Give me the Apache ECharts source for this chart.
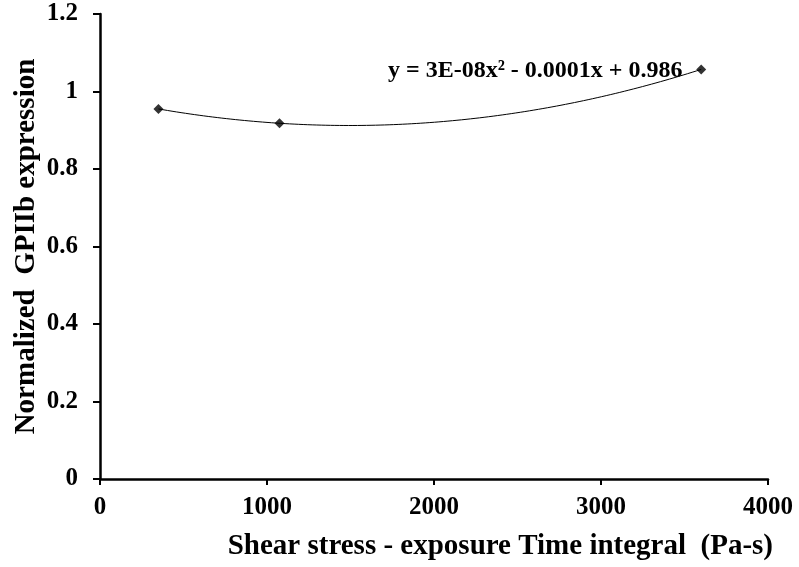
<!DOCTYPE html>
<html>
<head>
<meta charset="utf-8">
<script src="https://cdn.jsdelivr.net/npm/echarts@6/dist/echarts.min.js"></script>
<style>
  html, body { margin: 0; padding: 0; background: #fff; }
  #chart { width: 799px; height: 567px; }
</style>
</head>
<body>
<div id="chart"></div>
<script>
// Measured exposure (Pa-s) and normalized GPIIb expression
const exposure = [350, 1075, 3600];
const gpiib = [0.955, 0.918, 1.057];

const xTicks = [0, 1000, 2000, 3000, 4000];
const yTicks = [0, 0.2, 0.4, 0.6, 0.8, 1, 1.2];

const xTitle = 'Shear stress - exposure Time integral  (Pa-s)';
const yTitle = 'Normalized  GPIIb expression';
const equationText = 'y = 3E-08x\u00B2 - 0.0001x + 0.986';

const FONT = '"Liberation Serif", "Times New Roman", serif';

// Second-order polynomial trendline, least-squares fit to the measurements
function polyfit2(xs, ys) {
  const n = xs.length;
  let s = [0, 0, 0, 0, 0], t = [0, 0, 0];
  for (let i = 0; i < n; i++) {
    let p = 1;
    for (let k = 0; k <= 4; k++) { s[k] += p; if (k <= 2) t[k] += p * ys[i]; p *= xs[i]; }
  }
  const A = [[s[0], s[1], s[2], t[0]], [s[1], s[2], s[3], t[1]], [s[2], s[3], s[4], t[2]]];
  for (let c = 0; c < 3; c++) {
    for (let r = c + 1; r < 3; r++) {
      const f = A[r][c] / A[c][c];
      for (let k = c; k < 4; k++) A[r][k] -= f * A[c][k];
    }
  }
  const coef = [0, 0, 0];
  for (let r = 2; r >= 0; r--) {
    let v = A[r][3];
    for (let k = r + 1; k < 3; k++) v -= A[r][k] * coef[k];
    coef[r] = v / A[r][r];
  }
  return coef; // c0 + c1 x + c2 x^2
}

const coef = polyfit2(exposure, gpiib);
const xMin = Math.min(...exposure), xMax = Math.max(...exposure);
const trend = [];
for (let i = 0; i <= 120; i++) {
  const x = xMin + (xMax - xMin) * i / 120;
  trend.push([x, coef[0] + coef[1] * x + coef[2] * x * x]);
}

const chart = echarts.init(document.getElementById('chart'), null, { renderer: 'canvas' });
chart.setOption({
  animation: false,
  backgroundColor: '#ffffff',
  grid: { left: 100, right: 31, top: 14, bottom: 88, containLabel: false, outerBoundsMode: 'none' },
  xAxis: {
    type: 'value',
    min: xTicks[0], max: xTicks[xTicks.length - 1], interval: 1000,
    axisLine: { show: true, lineStyle: { color: '#000', width: 2.5 } },
    axisTick: { show: true, inside: false, length: 6, lineStyle: { color: '#000', width: 2 } },
    axisLabel: { margin: 16, color: '#000', fontFamily: FONT, fontWeight: 'bold', fontSize: 25,
      formatter: v => String(v) },
    splitLine: { show: false },
    name: xTitle,
    nameLocation: 'end',
    nameGap: 5,
    nameTextStyle: { color: '#000', fontFamily: FONT, fontWeight: 'bold', fontSize: 29,
      align: 'right', verticalAlign: 'top', padding: [53, 0, 0, 0] }
  },
  yAxis: {
    type: 'value',
    min: yTicks[0], max: yTicks[yTicks.length - 1], interval: 0.2,
    axisLine: { show: true, lineStyle: { color: '#000', width: 2.5 } },
    axisTick: { show: true, inside: false, length: 7, lineStyle: { color: '#000', width: 2 } },
    axisLabel: { margin: 22, color: '#000', fontFamily: FONT, fontWeight: 'bold', fontSize: 25,
      formatter: v => String(v) },
    splitLine: { show: false },
    name: yTitle,
    nameLocation: 'middle',
    nameGap: 59,
    nameMoveOverlap: false,
    nameTextStyle: { color: '#000', fontFamily: FONT, fontWeight: 'bold', fontSize: 29 }
  },
  graphic: [{
    type: 'text',
    left: 388, top: 59,
    style: { text: equationText, fill: '#000', font: 'bold 24px ' + FONT }
  }],
  series: [
    {
      type: 'line', data: trend, showSymbol: false, smooth: false,
      lineStyle: { color: '#000', width: 1 }, z: 2, silent: true
    },
    {
      type: 'scatter', data: exposure.map((x, i) => [x, gpiib[i]]),
      symbol: 'diamond', symbolSize: 10,
      itemStyle: { color: '#000' }, z: 3
    }
  ]
});
</script>
</body>
</html>
